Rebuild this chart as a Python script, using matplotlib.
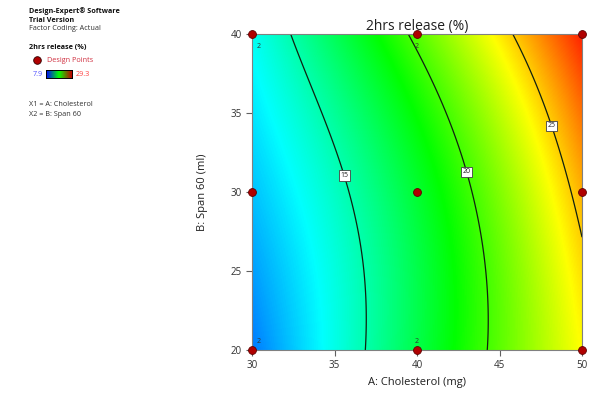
import numpy as np
import matplotlib
matplotlib.use("Agg")
import matplotlib.pyplot as plt
from matplotlib.colors import LinearSegmentedColormap
from matplotlib.lines import Line2D

plt.rcParams['font.family'] = ['Open Sans', 'Noto Sans', 'DejaVu Sans']

# Factor levels (design space)
cholesterol = [30, 40, 50]          # A: Cholesterol (mg)
span60 = [20, 30, 40]               # B: Span 60 (ml)
# Predicted 2 h release (%) at the factor-level grid, rows = span60, cols = cholesterol
release_grid = [
    [10.5, 17.1, 24.0],
    [12.0, 17.6, 25.6],
    [13.5, 20.4, 28.6],
]
contour_levels = [15, 20, 25]
label_points = [(35.45, 31.0), (43.1, 31.3), (47.9, 34.1)]
resp_min, resp_max = 7.9, 29.3

# Design points and replicate counts
pts_x = [30, 40, 50, 30, 40, 50, 30, 40, 50]
pts_y = [20, 20, 20, 30, 30, 30, 40, 40, 40]
replicates = {(30, 20): 2, (40, 20): 2, (30, 40): 2, (40, 40): 2}

cmap = LinearSegmentedColormap.from_list(
    "de", ["#0000ff", "#00ffff", "#00ff00", "#ffff00", "#ff0000"])


def lagrange(nodes, t):
    t = np.asarray(t, dtype=float)
    out = []
    for i, ni in enumerate(nodes):
        b = np.ones_like(t)
        for j, nj in enumerate(nodes):
            if j != i:
                b = b * (t - nj) / (ni - nj)
        out.append(b)
    return out


def surface(a, b):
    la = lagrange(cholesterol, a)
    lb = lagrange(span60, b)
    z = np.zeros_like(np.asarray(a, dtype=float))
    g = np.asarray(release_grid)
    for r in range(3):
        for c in range(3):
            z = z + g[r, c] * lb[r] * la[c]
    return z


fig = plt.figure(figsize=(5.93, 4.01), dpi=100)
ax = fig.add_axes([0.425, 0.127, 0.5565, 0.788])

xa = np.linspace(30, 50, 300)
yb = np.linspace(20, 40, 300)
X, Y = np.meshgrid(xa, yb)
Z = surface(X, Y)

ax.imshow(Z, extent=[30, 50, 20, 40], origin='lower', cmap=cmap,
          vmin=resp_min, vmax=resp_max, aspect='auto', interpolation='bilinear')
cs = ax.contour(X, Y, Z, levels=contour_levels, colors='#102010', linewidths=0.9)
ax.clabel(cs, fmt='%d', fontsize=5, inline=False, manual=label_points)
for t in cs.labelTexts:
    t.set_bbox(dict(facecolor='white', edgecolor='#404040', linewidth=0.6, pad=1.2))
    t.set_rotation(0)
    t.set_color('#202020')

ax.scatter(pts_x, pts_y, s=32, c='#b00000', edgecolors='#600000', linewidths=0.6,
           zorder=5, clip_on=False)
for (px, py), n in replicates.items():
    dy = -0.55 if py == 40 else 0.3
    va = 'top' if py == 40 else 'bottom'
    dx = 0.25 if px == 30 else 0.0
    ax.text(px + dx, py + dy, str(n), fontsize=5, color='#303030', va=va,
            ha='left' if px == 30 else 'center', zorder=6)

ax.set_xlim(30, 50)
ax.set_ylim(20, 40)
ax.set_xticks([30, 35, 40, 45, 50])
ax.set_yticks([20, 25, 30, 35, 40])
ax.tick_params(direction='out', length=4, width=0.8, color='#606060',
               labelsize=7, labelcolor='#303030')
for s in ax.spines.values():
    s.set_color('#808080')
    s.set_linewidth(0.8)
ax.set_title('2hrs release (%)', fontsize=10, color='#202020', pad=3)
ax.set_xlabel('A: Cholesterol (mg)', fontsize=8, color='#202020', labelpad=4)
ax.set_ylabel('B: Span 60 (ml)', fontsize=8, color='#202020', labelpad=16)

# Side information panel
def ftext(x, y, s, **kw):
    fig.text(x / 593, 1 - y / 401, s, va='center', ha='left', **kw)

fs = 5.2
ftext(29, 11, 'Design-Expert® Software', fontsize=fs, weight='bold', color='#101010')
ftext(29, 20, 'Trial Version', fontsize=fs, weight='bold', color='#101010')
ftext(29, 29, 'Factor Coding: Actual', fontsize=fs, color='#303030')
ftext(29, 48, '2hrs release (%)', fontsize=fs, weight='bold', color='#101010')
fig.add_artist(Line2D([37 / 593], [1 - 60 / 401], transform=fig.transFigure,
                      marker='o', markersize=5.5, markerfacecolor='#b00000',
                      markeredgecolor='#300000', markeredgewidth=0.6, linestyle='none'))
ftext(47, 60, 'Design Points', fontsize=fs, color='#d03040')
ftext(33, 74, f'{resp_min}', fontsize=fs, color='#5050ff')
ftext(76, 74, f'{resp_max}', fontsize=fs, color='#ff4040')
cax = fig.add_axes([46 / 593, 1 - 78 / 401, 26 / 593, 8 / 401])
cax.imshow(np.linspace(0, 1, 100)[None, :], cmap=LinearSegmentedColormap.from_list(
    "leg", ["#0000ff", "#00ff00", "#c00000"]), aspect='auto')
cax.set_xticks([])
cax.set_yticks([])
for s in cax.spines.values():
    s.set_linewidth(0.7)
ftext(29, 105, 'X1 = A: Cholesterol', fontsize=fs, color='#303030')
ftext(29, 114, 'X2 = B: Span 60', fontsize=fs, color='#303030')

fig.savefig('out.png', dpi=100)
